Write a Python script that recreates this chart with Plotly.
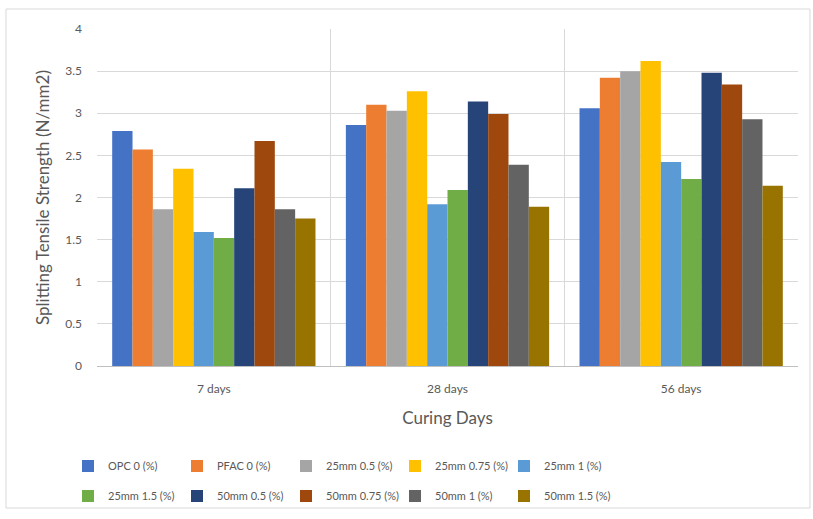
import plotly.graph_objects as go

categories = ["7 days", "28 days", "56 days"]
series_names = ["OPC 0 (%)", "PFAC 0 (%)", "25mm 0.5 (%)", "25mm 0.75 (%)", "25mm 1 (%)",
                "25mm 1.5 (%)", "50mm 0.5 (%)", "50mm 0.75 (%)", "50mm 1 (%)", "50mm 1.5 (%)"]
opc_0 = [2.79, 2.86, 3.06]
pfac_0 = [2.57, 3.10, 3.42]
mm25_05 = [1.86, 3.03, 3.50]
mm25_075 = [2.34, 3.26, 3.62]
mm25_1 = [1.59, 1.92, 2.42]
mm25_15 = [1.52, 2.09, 2.22]
mm50_05 = [2.11, 3.14, 3.48]
mm50_075 = [2.67, 2.99, 3.34]
mm50_1 = [1.86, 2.39, 2.93]
mm50_15 = [1.75, 1.89, 2.14]
series_values = [opc_0, pfac_0, mm25_05, mm25_075, mm25_1, mm25_15, mm50_05, mm50_075, mm50_1, mm50_15]
colors = ["#4472C4", "#ED7D31", "#A5A5A5", "#FFC000", "#5B9BD5",
          "#70AD47", "#264478", "#9E480E", "#636363", "#997300"]
y_ticks = [0, 0.5, 1, 1.5, 2, 2.5, 3, 3.5, 4]

FONT = "Lato"
TXT = "#595959"
W, H = 813, 519
ML, MR, MT, MB = 97, 15, 29, 153
pw, ph = W - ML - MR, H - MT - MB

def px_x(p):
    return (p - ML) / pw

def px_y(p):
    return (H - MB - p) / ph

fig = go.Figure()
for i, (name, vals, col) in enumerate(zip(series_names, series_values, colors)):
    fig.add_trace(go.Bar(
        x=categories, y=vals, name=name, marker=dict(color=col, line=dict(width=0)),
        legend="legend" if i < 5 else "legend2",
    ))

legend_common = dict(
    orientation="h", xanchor="left", yanchor="middle",
    font=dict(family=FONT, size=11, color=TXT),
    entrywidth=64, entrywidthmode="pixels", itemwidth=30,
    bgcolor="rgba(0,0,0,0)", traceorder="normal",
)

fig.update_layout(
    width=W, height=H,
    margin=dict(l=ML, r=MR, t=MT, b=MB, autoexpand=False),
    paper_bgcolor="white", plot_bgcolor="white",
    barmode="group", bargap=0.13, bargroupgap=0,
    font=dict(family=FONT, color=TXT),
    showlegend=True,
    legend=dict(x=px_x(68), y=px_y(466), **legend_common),
    legend2=dict(x=px_x(68), y=px_y(496), **legend_common),
    xaxis=dict(
        tickson="boundaries", showgrid=True, gridcolor="#D9D9D9", gridwidth=1,
        showline=True, linecolor="#BFBFBF", linewidth=1,
        ticks="", ticklabelstandoff=12,
        tickfont=dict(family=FONT, size=12, color=TXT),
        title=dict(text="Curing Days", font=dict(family=FONT, size=17, color=TXT), standoff=16),
        mirror=False,
    ),
    yaxis=dict(
        range=[0, 4], tickvals=y_ticks, ticktext=[f"{v:g}" for v in y_ticks],
        showgrid=True, gridcolor="#D9D9D9", gridwidth=1, zeroline=False,
        showline=False, ticks="", ticklabelstandoff=14,
        tickfont=dict(family=FONT, size=12, color=TXT),
        title=dict(text="Splitting Tensile Strength (N/mm2)", font=dict(family=FONT, size=17, color=TXT), standoff=11),
    ),
    shapes=[
        dict(type="rect", xref="paper", yref="paper",
             x0=px_x(6), x1=px_x(810), y0=px_y(508), y1=px_y(9),
             line=dict(color="#D9D9D9", width=1), fillcolor="rgba(0,0,0,0)", layer="below"),
    ],
)

fig.write_html("out.html", config={"displayModeBar": False},
               post_script="document.body.style.margin='0';")
